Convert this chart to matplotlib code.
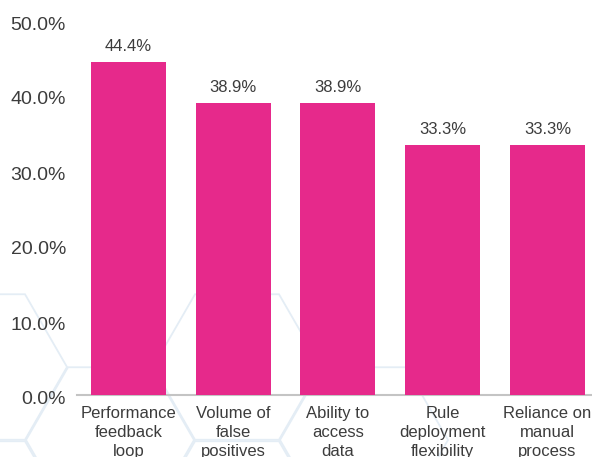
import numpy as np
import matplotlib
matplotlib.use("Agg")
import matplotlib.pyplot as plt
from matplotlib.patches import RegularPolygon
from matplotlib.transforms import Affine2D, ScaledTranslation

plt.rcParams['font.family'] = ['Liberation Sans', 'DejaVu Sans']

categories = ["Performance\nfeedback\nloop", "Volume of\nfalse\npositives",
              "Ability to\naccess\ndata", "Rule\ndeployment\nflexibility",
              "Reliance on\nmanual\nprocess"]
values = [44.4, 38.9, 38.9, 33.3, 33.3]
yticks = [0, 10, 20, 30, 40, 50]

bar_color = '#E6298B'
text_color = '#3c3c3c'

W, H = 592, 457
fig = plt.figure(figsize=(W / 100, H / 100), dpi=100)

# faint hexagon pattern in the lower left, in pixel coords (origin top-left)
px = Affine2D().scale(1.0 / W, -1.0 / H).translate(0, 1) + fig.transFigure
R = 84
for cx, cy in [(-17, 367), (237, 367), (110, 440), (364, 440),
               (-17, 514), (237, 514)]:
    hexa = RegularPolygon((cx, cy), numVertices=6, radius=R, orientation=np.pi / 6,
                          fill=False, edgecolor='#e4edf5', linewidth=1.3,
                          transform=px, zorder=-1)
    fig.patches.append(hexa)

ax = fig.add_axes([77 / W, 62 / H, 1 - 77 / W, 375 / H])
ax.patch.set_alpha(0)

x = np.arange(len(categories))
bars = ax.bar(x, values, width=0.716, color=bar_color, zorder=3)

for xi, v in zip(x, values):
    ax.annotate(f"{v:.1f}%", (xi, v), xytext=(0, 6), textcoords='offset points',
                ha='center', va='bottom', fontsize=12, color=text_color)

ax.set_xlim(-0.4916, 4.425)
ax.set_ylim(0, 50)
ax.set_yticks(yticks)
ax.set_yticklabels([f"{t:.1f}%" for t in yticks], fontsize=14, color=text_color)
ax.set_xticks(x)
ax.set_xticklabels(categories, fontsize=12, color=text_color, linespacing=1.32)
ax.tick_params(axis='both', length=0)
ax.tick_params(axis='y', pad=8)
ax.tick_params(axis='x', pad=8)

# nudge the y labels down a little
shift = ScaledTranslation(0, -3 / 100, fig.dpi_scale_trans)
for lbl in ax.get_yticklabels():
    lbl.set_transform(lbl.get_transform() + shift)

for side in ['top', 'right', 'left']:
    ax.spines[side].set_visible(False)
ax.spines['bottom'].set_color('#c4c4c4')
ax.spines['bottom'].set_linewidth(1.5)

fig.savefig("out.png", dpi=100)
